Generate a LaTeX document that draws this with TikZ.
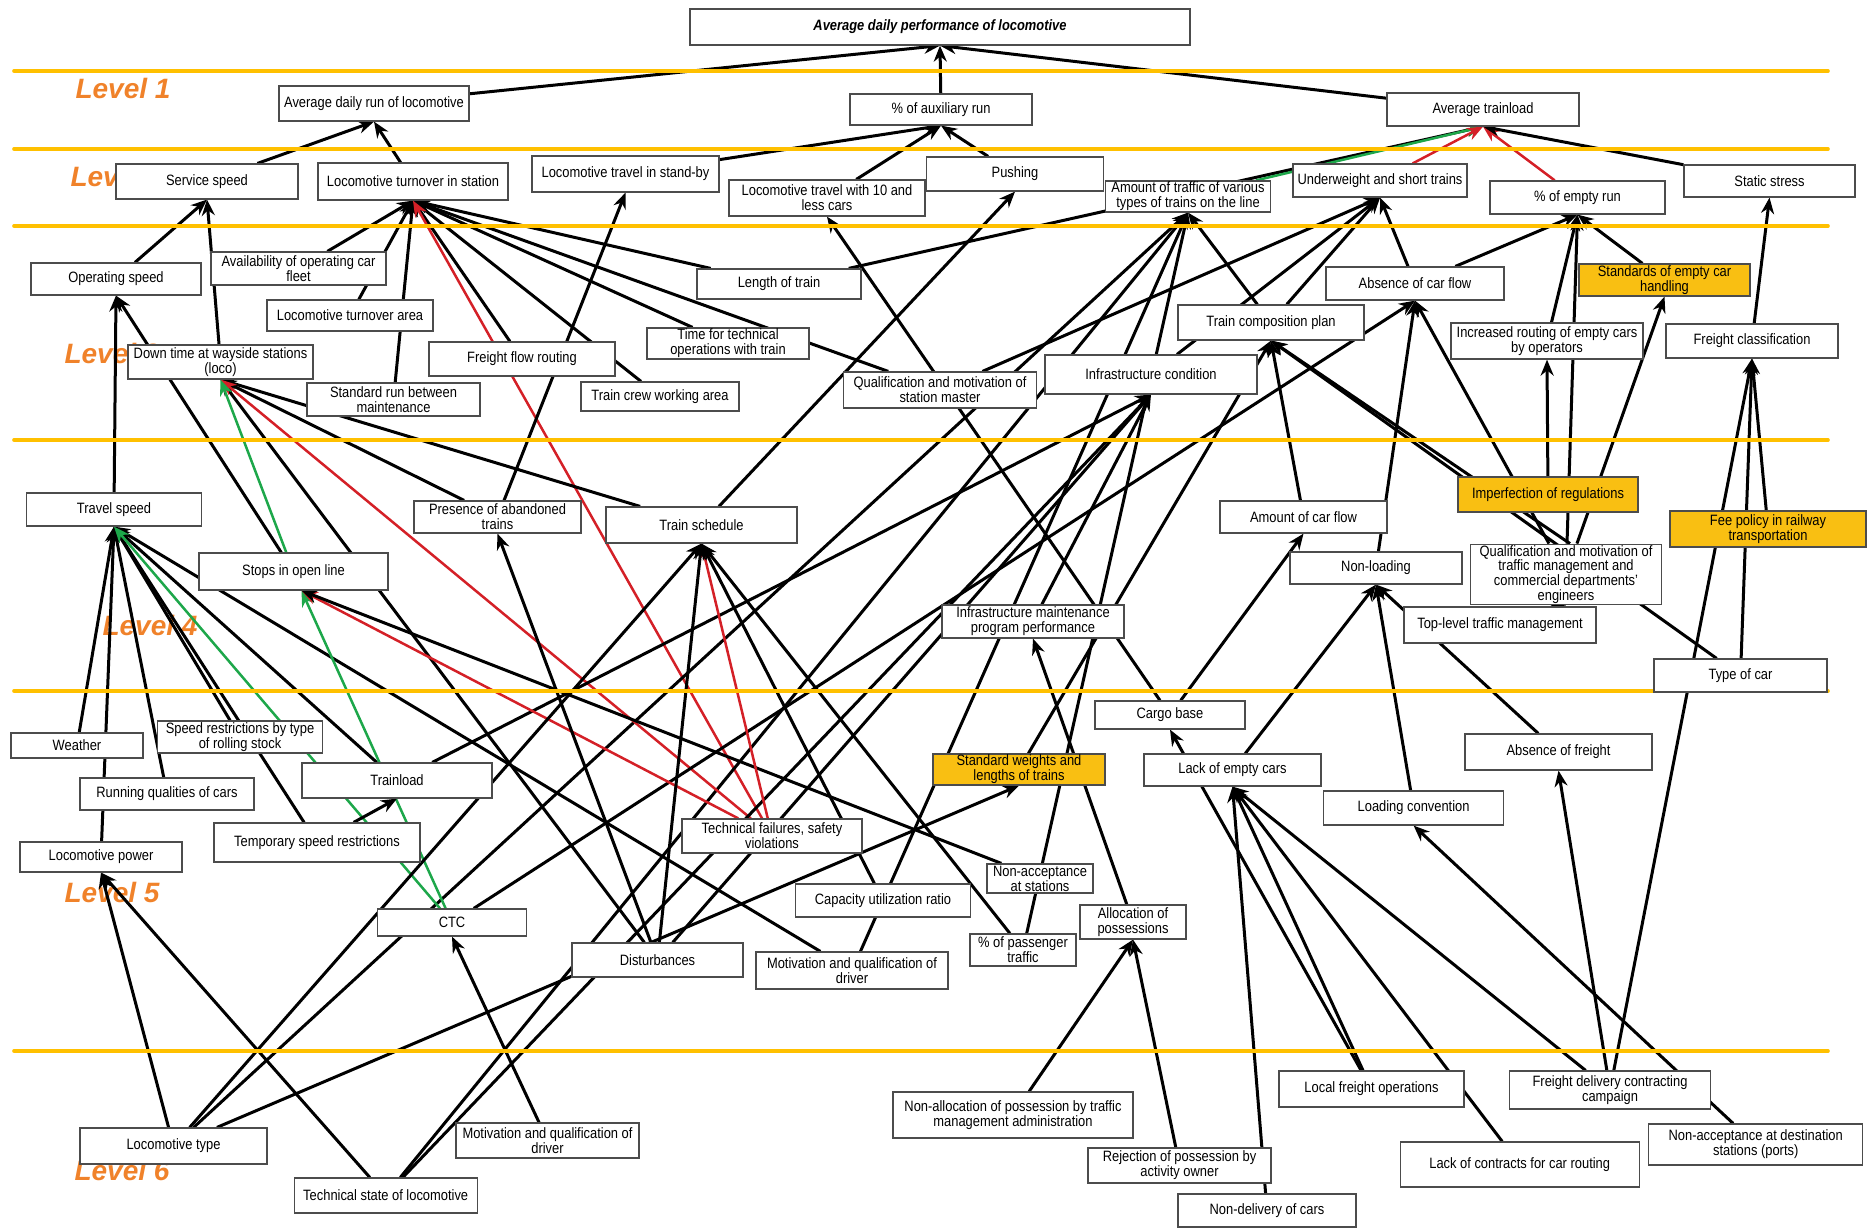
\documentclass[tikz,border=0pt]{standalone}
\usepackage{fontspec}
\setmainfont{Liberation Sans}[FakeStretch=0.86]
\newfontfamily\lvlfont{Liberation Sans}
\usetikzlibrary{arrows.meta,positioning}

\definecolor{bandyellow}{HTML}{FFC000}
\definecolor{keyyellow}{HTML}{F9BF12}
\definecolor{lvlorange}{HTML}{F0822A}
\definecolor{linkred}{HTML}{D42027}
\definecolor{linkgreen}{HTML}{1DA74A}

\pgfdeclarelayer{labels}
\pgfdeclarelayer{links}
\pgfdeclarelayer{bands}
\pgfsetlayers{labels,links,bands,main}

\begin{document}
\begin{tikzpicture}[x=1pt, y=-1pt,
    factor/.style={draw=black!70, fill=white, line width=1.2pt, align=center,
      inner sep=1pt, font=\fontsize{15}{15}\selectfont},
    key/.style={factor, fill=keyyellow},
    link/.style={line width=3pt, -{Stealth[length=16pt,width=13pt]}},
    redlink/.style={link, draw=linkred, line width=2.5pt},
    greenlink/.style={link, draw=linkgreen, line width=2.5pt},
    band/.style={draw=bandyellow, line width=3.6pt, line cap=round},
    lvl/.style={text=lvlorange, font=\lvlfont\bfseries\itshape\fontsize{28}{30}\selectfont}]
  \useasboundingbox (0,0) rectangle (1870,1228);

  % levels
  \begin{pgfonlayer}{labels}
    \node[lvl] (l1) at (123,88) {Level 1};
    \node[lvl] (l2) at (118,176) {Level 2};
    \node[lvl] (l3) at (112,353) {Level 3};
    \node[lvl] (l4) at (150,625) {Level 4};
    \node[lvl] (l5) at (112,892) {Level 5};
    \node[lvl] (l6) at (122,1170) {Level 6};
  \end{pgfonlayer}
  \begin{pgfonlayer}{bands}
    \foreach \y in {71,149,226,440,691,1051}
      \draw[band] (14,\y) -- (1828,\y);
  \end{pgfonlayer}

  % top and level 1
  \node[factor, minimum width=500, minimum height=36] (perf) at (940,27)
    {\textbf{\textit{Average daily performance of locomotive}}};
  \node[factor, minimum width=190, minimum height=35] (avgrun) at (374,103.5) {Average daily run of locomotive};
  \node[factor, minimum width=182, minimum height=31] (aux) at (941,109.5) {\% of auxiliary run};
  \node[factor, minimum width=192, minimum height=33] (avgtl) at (1483,109.5) {Average trainload};

  % level 2
  \node[factor, minimum width=182, minimum height=35] (servicespeed) at (207,181.5) {Service speed};
  \node[factor, minimum width=190, minimum height=37] (locoturn) at (413,181.5) {Locomotive turnover in station};
  \node[factor, minimum width=187, minimum height=36] (standby) at (625.5,174) {Locomotive travel in stand-by};
  \node[factor, minimum width=196, minimum height=36] (travel10) at (827,198) {Locomotive travel with 10 and\\less cars};
  \node[factor, minimum width=177, minimum height=34] (pushing) at (1015,174) {Pushing};
  \node[factor, minimum width=165, minimum height=31] (amounttraffic) at (1188,196.5) {Amount of traffic of various\\types of trains on the line};
  \node[factor, minimum width=174, minimum height=33] (underweight) at (1380,180.5) {Underweight and short trains};
  \node[factor, minimum width=175, minimum height=33] (emptyrun) at (1577.5,197.5) {\% of empty run};
  \node[factor, minimum width=171, minimum height=32] (staticstress) at (1769.5,181) {Static stress};

  % level 3
  \node[factor, minimum width=170, minimum height=32] (opspeed) at (116,279) {Operating speed};
  \node[factor, minimum width=175, minimum height=33] (availfleet) at (298.5,268.5) {Availability of operating car\\fleet};
  \node[factor, minimum width=166, minimum height=31] (turnarea) at (350,315.5) {Locomotive turnover area};
  \node[factor, minimum width=185, minimum height=34] (downtime) at (220.5,362) {Down time at wayside stations\\(loco)};
  \node[factor, minimum width=173, minimum height=33] (standardrun) at (393.5,399.5) {Standard run between\\maintenance};
  \node[factor, minimum width=186, minimum height=34] (freightrouting) at (522,359) {Freight flow routing};
  \node[factor, minimum width=158, minimum height=29] (crewarea) at (660,396.5) {Train crew working area};
  \node[factor, minimum width=162, minimum height=31] (timetech) at (728,343.5) {Time for technical\\operations with train};
  \node[factor, minimum width=164, minimum height=30] (lengthtrain) at (779,284) {Length of train};
  \node[factor, minimum width=193, minimum height=36] (stationmaster) at (940,390) {Qualification and motivation of\\station master};
  \node[factor, minimum width=212, minimum height=39] (infracondition) at (1151,374.5) {Infrastructure condition};
  \node[factor, minimum width=186, minimum height=35] (compplan) at (1271,322.5) {Train composition plan};
  \node[factor, minimum width=178, minimum height=33] (absencecarflow) at (1415,283.5) {Absence of car flow};
  \node[key, minimum width=171, minimum height=32] (standardsempty) at (1664.5,280) {Standards of empty car\\handling};
  \node[factor, minimum width=192, minimum height=36] (increasedrouting) at (1547,341) {Increased routing of empty cars\\by operators};
  \node[factor, minimum width=172, minimum height=34] (freightclass) at (1752,341) {Freight classification};

  % level 4
  \node[factor, minimum width=175, minimum height=33] (travelspeed) at (114,509.5) {Travel speed};
  \node[factor, minimum width=167, minimum height=32] (abandoned) at (497.5,517) {Presence of abandoned\\trains};
  \node[factor, minimum width=191, minimum height=36] (trainschedule) at (701.5,525) {Train schedule};
  \node[factor, minimum width=189, minimum height=37] (stops) at (293.5,571.5) {Stops in open line};
  \node[factor, minimum width=167, minimum height=32] (carflow) at (1303.5,517) {Amount of car flow};
  \node[key, minimum width=180, minimum height=35] (imperfection) at (1548,494.5) {Imperfection of regulations};
  \node[key, minimum width=196, minimum height=36] (feepolicy) at (1768,529) {Fee policy in railway\\transportation};
  \node[factor, minimum width=172, minimum height=32] (nonloading) at (1376,568) {Non-loading};
  \node[factor, minimum width=191, minimum height=55, font=\fontsize{15}{13.6}\selectfont] (qualtraffic) at (1566,574.5)
    {Qualification and motivation of\\traffic management and\\commercial departments'\\engineers};
  \node[factor, minimum width=182, minimum height=33] (inframaint) at (1033,621.5) {Infrastructure maintenance\\program performance};
  \node[factor, minimum width=192, minimum height=36] (toplevel) at (1500,625) {Top-level traffic management};
  \node[factor, minimum width=173, minimum height=33] (typecar) at (1740.5,675.5) {Type of car};

  % level 5
  \node[factor, minimum width=132, minimum height=25] (weather) at (77,745.5) {Weather};
  \node[factor, minimum width=165, minimum height=32] (speedrestr) at (240,737) {Speed restrictions by type\\of rolling stock};
  \node[factor, minimum width=174, minimum height=32] (runningqual) at (167,794) {Running qualities of cars};
  \node[factor, minimum width=190, minimum height=35] (trainload) at (397,780.5) {Trainload};
  \node[factor, minimum width=162, minimum height=30] (locopower) at (101,857) {Locomotive power};
  \node[factor, minimum width=206, minimum height=39] (tempspeed) at (317,842.5) {Temporary speed restrictions};
  \node[factor, minimum width=180, minimum height=34] (techfail) at (772,836) {Technical failures, safety\\violations};
  \node[key, minimum width=172, minimum height=31] (standardweights) at (1019,769.5) {Standard weights and\\lengths of trains};
  \node[factor, minimum width=150, minimum height=28] (cargobase) at (1170,715) {Cargo base};
  \node[factor, minimum width=177, minimum height=32] (lackempty) at (1232.5,770) {Lack of empty cars};
  \node[factor, minimum width=106, minimum height=29] (nonacceptst) at (1040,878.5) {Non-acceptance\\at stations};
  \node[factor, minimum width=175, minimum height=33] (capacity) at (883,900.5) {Capacity utilization ratio};
  \node[factor, minimum width=106, minimum height=34] (allocation) at (1133,922) {Allocation of\\possessions};
  \node[factor, minimum width=106, minimum height=32] (passenger) at (1023,950) {\% of passenger\\traffic};
  \node[factor, minimum width=192, minimum height=37] (drivermot) at (852,970.5) {Motivation and qualification of\\driver};
  \node[factor, minimum width=171, minimum height=34] (disturb) at (657.5,960) {Disturbances};
  \node[factor, minimum width=149, minimum height=27] (ctc) at (452,922.5) {CTC};
  \node[factor, minimum width=187, minimum height=36] (absencefreight) at (1558.5,752) {Absence of freight};
  \node[factor, minimum width=180, minimum height=34] (loadingconv) at (1413.6,808) {Loading convention};

  % level 6
  \node[factor, minimum width=187, minimum height=36] (locotype) at (173.5,1146) {Locomotive type};
  \node[factor, minimum width=183, minimum height=35] (techstate) at (385.7,1195.5) {Technical state of locomotive};
  \node[factor, minimum width=183, minimum height=35] (drivermotsix) at (547.5,1140.5) {Motivation and qualification of\\driver};
  \node[factor, minimum width=240, minimum height=46] (nonalloc) at (1013,1115) {Non-allocation of possession by traffic\\management administration};
  \node[factor, minimum width=183, minimum height=35] (rejection) at (1179.5,1165.5) {Rejection of possession by\\activity owner};
  \node[factor, minimum width=178, minimum height=33] (nondelivery) at (1267,1210.5) {Non-delivery of cars};
  \node[factor, minimum width=185, minimum height=36] (localfreight) at (1371.5,1089) {Local freight operations};
  \node[factor, minimum width=239, minimum height=45] (lackcontracts) at (1519.7,1164.5) {Lack of contracts for car routing};
  \node[factor, minimum width=201, minimum height=38] (campaign) at (1610,1090) {Freight delivery contracting\\campaign};
  \node[factor, minimum width=214, minimum height=41] (nonacceptdest) at (1755.7,1144.5) {Non-acceptance at destination\\stations (ports)};

  \begin{pgfonlayer}{links}
  % to the top
  \path[link]
    (avgrun) edge (perf.south)
    (aux) edge (perf.south)
    (avgtl) edge (perf.south);
  % level 2 to level 1
  \path[link]
    (servicespeed) edge (avgrun.south)
    (locoturn) edge (avgrun.south)
    (standby) edge (aux.south)
    (travel10) edge (aux.south)
    (pushing) edge (aux.south)
    (lengthtrain) edge (avgtl.south)
    (amounttraffic) edge[greenlink] (avgtl.south)
    (underweight) edge[redlink] (avgtl.south)
    (emptyrun) edge[redlink] (avgtl.south)
    (staticstress) edge (avgtl.south);
  % level 3 to level 2
  \path[link]
    (opspeed) edge (servicespeed.south)
    (downtime) edge (servicespeed.south)
    (availfleet) edge (locoturn.south)
    (turnarea) edge (locoturn.south)
    (standardrun) edge (locoturn.south)
    (freightrouting) edge (locoturn.south)
    (crewarea) edge (locoturn.south)
    (timetech) edge (locoturn.south)
    (stationmaster) edge (locoturn.south)
    (lengthtrain) edge (locoturn.south)
    (techfail) edge[redlink] (locoturn.south)
    (abandoned) edge (standby.south)
    (cargobase) edge (travel10.south)
    (trainschedule) edge (pushing.south)
    (locotype) edge (amounttraffic.south)
    (techstate) edge (amounttraffic.south)
    (drivermot) edge (amounttraffic.south)
    (passenger) edge (amounttraffic.south)
    (compplan) edge (amounttraffic.south)
    (compplan) edge (underweight.south)
    (absencecarflow) edge (underweight.south)
    (stationmaster) edge (underweight.south)
    (infracondition) edge (underweight.south)
    (absencecarflow) edge (emptyrun.south)
    (increasedrouting) edge (emptyrun.south)
    (qualtraffic) edge (emptyrun.south)
    (standardsempty) edge (emptyrun.south)
    (freightclass) edge (staticstress.south);
  % level 4 to level 3
  \path[link]
    (travelspeed) edge (opspeed.south)
    (stops) edge (opspeed.south)
    (trainschedule) edge (downtime.south)
    (abandoned) edge (downtime.south)
    (disturb) edge (downtime.south)
    (techfail) edge[redlink] (downtime.south)
    (stops) edge[greenlink] (downtime.south)
    (carflow) edge (compplan.south)
    ([xshift=4]qualtraffic.north) edge (compplan.south)
    (typecar) edge (compplan.south)
    (standardweights) edge (compplan.south)
    (nonloading) edge (absencecarflow.south)
    (qualtraffic) edge (absencecarflow.south)
    (ctc) edge (absencecarflow.south)
    (imperfection) edge (increasedrouting.south)
    (qualtraffic) edge (standardsempty.south)
    (campaign) edge (freightclass.south)
    (typecar) edge (freightclass.south)
    (feepolicy) edge (freightclass.south)
    (trainload) edge (infracondition.south)
    (inframaint) edge (infracondition.south)
    (disturb) edge (infracondition.south)
    (techstate) edge (infracondition.south);
  % level 5 to level 4
  \path[link]
    (weather) edge (travelspeed.south)
    (runningqual) edge (travelspeed.south)
    (locopower) edge (travelspeed.south)
    (speedrestr) edge (travelspeed.south)
    (tempspeed) edge (travelspeed.south)
    (trainload) edge (travelspeed.south)
    (drivermot) edge (travelspeed.south)
    (ctc) edge[greenlink] (travelspeed.south)
    (ctc) edge[greenlink] ([xshift=8]stops.south)
    (techfail) edge[redlink] ([xshift=8]stops.south)
    (nonacceptst) edge ([xshift=8]stops.south)
    (techfail) edge[redlink] (trainschedule.south)
    (locotype) edge (trainschedule.south)
    (disturb) edge (trainschedule.south)
    (capacity) edge (trainschedule.south)
    (passenger) edge (trainschedule.south)
    (disturb) edge (abandoned.south)
    (cargobase) edge (carflow.south)
    (lackempty) edge (nonloading.south)
    (loadingconv) edge (nonloading.south)
    (absencefreight) edge (nonloading.south)
    (toplevel) edge (qualtraffic.south)
    (allocation) edge (inframaint.south)
    (tempspeed) edge (trainload.south)
    (locotype) edge (standardweights.south);
  % level 6 to level 5
  \path[link]
    (locotype) edge (locopower.south)
    (techstate) edge (locopower.south)
    (drivermotsix) edge (ctc.south)
    (nonalloc) edge (allocation.south)
    (rejection) edge (allocation.south)
    (localfreight) edge (cargobase.south)
    (campaign) edge (lackempty.south)
    (lackcontracts) edge (lackempty.south)
    (localfreight) edge (lackempty.south)
    (nondelivery) edge (lackempty.south)
    (campaign) edge (absencefreight.south)
    (nonacceptdest) edge (loadingconv.south);
  \end{pgfonlayer}
\end{tikzpicture}
\end{document}
